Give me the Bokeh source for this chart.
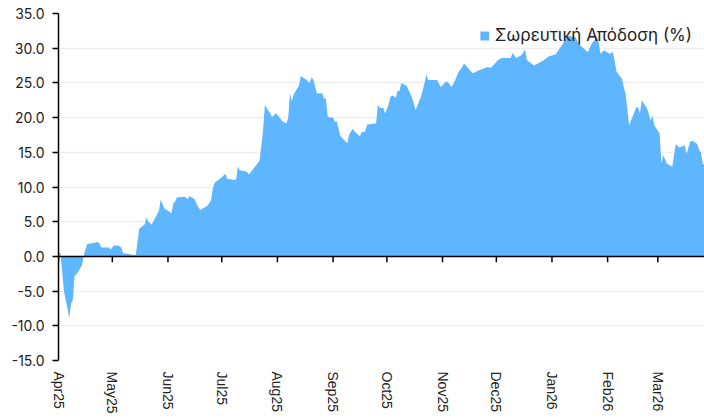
import numpy as np
import pandas as pd
from bokeh.plotting import figure
from bokeh.models import (Range1d, FixedTicker, NumeralTickFormatter,
                          DatetimeTickFormatter, Span, ColumnDataSource)
from bokeh.embed import file_html
from bokeh.resources import INLINE

series_name = "Σωρευτική Απόδοση (%)"

dates = [
    "2025-04-01", "2025-04-02", "2025-04-03", "2025-04-04", "2025-04-07", "2025-04-08",
    "2025-04-09", "2025-04-10", "2025-04-11", "2025-04-14", "2025-04-15", "2025-04-16",
    "2025-04-17", "2025-04-22", "2025-04-23", "2025-04-24", "2025-04-25", "2025-04-28",
    "2025-04-29", "2025-04-30",
    "2025-05-02", "2025-05-05", "2025-05-06", "2025-05-07", "2025-05-08", "2025-05-12",
    "2025-05-14", "2025-05-15", "2025-05-16", "2025-05-19", "2025-05-20", "2025-05-21",
    "2025-05-23", "2025-05-27", "2025-05-28", "2025-05-30",
    "2025-06-02", "2025-06-03", "2025-06-04", "2025-06-05", "2025-06-06", "2025-06-10",
    "2025-06-11", "2025-06-12", "2025-06-13", "2025-06-16", "2025-06-17", "2025-06-19",
    "2025-06-23", "2025-06-25", "2025-06-26", "2025-06-27", "2025-06-30",
    "2025-07-01", "2025-07-03", "2025-07-04", "2025-07-08", "2025-07-09", "2025-07-10",
    "2025-07-11", "2025-07-15", "2025-07-16", "2025-07-18", "2025-07-22", "2025-07-23",
    "2025-07-24", "2025-07-25", "2025-07-28", "2025-07-29", "2025-07-31",
    "2025-08-01", "2025-08-04", "2025-08-05", "2025-08-06", "2025-08-07", "2025-08-08",
    "2025-08-09", "2025-08-10", "2025-08-12", "2025-08-13", "2025-08-14", "2025-08-17",
    "2025-08-19", "2025-08-20", "2025-08-21", "2025-08-23", "2025-08-26", "2025-08-27",
    "2025-08-28", "2025-08-29", "2025-08-30",
    "2025-09-01", "2025-09-02", "2025-09-03", "2025-09-05", "2025-09-07", "2025-09-09",
    "2025-09-10", "2025-09-12", "2025-09-13", "2025-09-16", "2025-09-17", "2025-09-18",
    "2025-09-19", "2025-09-20", "2025-09-24", "2025-09-25", "2025-09-26", "2025-09-27",
    "2025-09-29", "2025-09-30",
    "2025-10-02", "2025-10-03", "2025-10-04", "2025-10-06", "2025-10-07", "2025-10-08",
    "2025-10-09", "2025-10-12", "2025-10-15", "2025-10-17", "2025-10-20", "2025-10-22",
    "2025-10-23", "2025-10-24", "2025-10-29", "2025-10-31",
    "2025-11-03", "2025-11-04", "2025-11-06", "2025-11-07", "2025-11-10", "2025-11-12",
    "2025-11-13", "2025-11-17", "2025-11-18", "2025-11-21", "2025-11-26", "2025-11-28",
    "2025-12-02", "2025-12-04", "2025-12-09", "2025-12-10", "2025-12-12", "2025-12-15",
    "2025-12-17", "2025-12-18", "2025-12-22", "2025-12-27", "2025-12-30",
    "2026-01-03", "2026-01-07", "2026-01-09", "2026-01-14", "2026-01-16", "2026-01-21",
    "2026-01-23", "2026-01-26", "2026-01-27", "2026-01-28", "2026-01-30",
    "2026-02-02", "2026-02-04", "2026-02-06", "2026-02-09", "2026-02-10", "2026-02-11",
    "2026-02-13", "2026-02-17", "2026-02-18", "2026-02-19", "2026-02-20", "2026-02-23",
    "2026-02-25", "2026-02-26", "2026-02-27",
    "2026-03-02", "2026-03-03", "2026-03-04", "2026-03-06", "2026-03-09", "2026-03-11",
    "2026-03-13", "2026-03-16", "2026-03-17", "2026-03-19", "2026-03-20", "2026-03-23",
    "2026-03-24", "2026-03-25", "2026-03-26", "2026-03-27",
]

values = [
    0.5, 0.5, -2.0, -5.0, -8.8, -6.8,
    -6.3, -2.7, -2.6, -1.3, 0.0, 1.0,
    1.8, 2.0, 2.1, 1.8, 1.3, 1.3,
    1.3, 1.0,
    1.6, 1.5, 1.3, 0.4, 0.45, 0.25,
    0.15, 2.0, 4.0, 4.6, 5.6, 5.0,
    4.6, 6.6, 8.2, 6.9,
    6.4, 6.2, 7.7, 7.9, 8.5, 8.6,
    8.5, 8.2, 8.7, 8.2, 7.5, 6.7,
    7.3, 8.1, 9.8, 10.6, 11.2,
    11.4, 11.9, 11.2, 11.0, 11.1, 13.0,
    12.4, 12.2, 11.8, 12.4, 13.8, 15.8,
    18.2, 21.8, 20.6, 20.1, 20.6,
    20.4, 19.4, 19.3, 19.2, 19.9, 23.5,
    22.4, 23.3, 24.2, 24.6, 26.0, 25.5,
    25.0, 25.8, 25.5, 23.5, 23.5, 22.7,
    22.8, 20.2, 20.0,
    20.0, 19.35, 19.5, 17.4, 16.8, 16.3,
    17.6, 18.4, 18.0, 17.3, 18.0, 17.9,
    18.1, 19.0, 19.1, 19.2, 21.9, 21.4,
    21.4, 20.6,
    21.9, 23.0, 23.2, 22.9, 23.9, 23.8,
    25.0, 24.6, 22.9, 21.1, 23.0, 25.0,
    26.2, 25.4, 25.4, 24.4,
    25.2, 25.1, 24.4, 24.8, 26.6, 27.3,
    27.8, 26.6, 26.4, 26.8, 27.3, 27.2,
    28.3, 28.6, 28.6, 29.3, 28.6, 29.0,
    29.8, 28.3, 27.5, 28.2, 28.8,
    29.1, 30.6, 31.8, 31.6, 30.6, 29.4,
    30.6, 31.6, 30.9, 29.2, 29.7,
    29.2, 29.4, 26.6, 25.6, 24.4, 23.4,
    18.9, 21.5, 21.5, 20.6, 22.5, 21.3,
    19.6, 20.3, 18.9,
    17.7, 13.4, 14.6, 13.4, 12.9, 16.2,
    15.7, 16.0, 14.8, 16.5, 16.7, 16.2,
    15.3, 15.0, 13.4, 13.1,
]

month_ticks = ["2025-04-01", "2025-05-01", "2025-06-01", "2025-07-01", "2025-08-01",
               "2025-09-01", "2025-10-01", "2025-11-01", "2025-12-01", "2026-01-01",
               "2026-02-01", "2026-03-01"]
y_ticks = [-15, -10, -5, 0, 5, 10, 15, 20, 25, 30, 35]

x = pd.to_datetime(dates)
src = ColumnDataSource(dict(x=x, y=values, zero=[0.0] * len(values)))
tick_dt = pd.to_datetime(month_ticks)
tick_ms = [float((t - pd.Timestamp("1970-01-01")) / pd.Timedelta(milliseconds=1)) for t in tick_dt]

p = figure(width=704, height=419, x_axis_type="datetime",
           output_backend="svg", toolbar_location=None,
           x_range=Range1d(x[0].to_pydatetime(), x[-1].to_pydatetime()),
           y_range=Range1d(y_ticks[0], y_ticks[-1]),
           min_border_left=58, min_border_right=0, min_border_top=13,
           min_border_bottom=59)
p.outline_line_color = None
p.background_fill_color = "white"

p.varea(x="x", y1="zero", y2="y", source=src, fill_color="#5db6fe",
        legend_label=series_name)

# zero line with month ticks
p.add_layout(Span(location=0, dimension="width", line_color="black", line_width=1.5))
p.segment(x0=tick_dt, y0=0, x1=tick_dt, y1=-0.85, line_color="black", line_width=1.5)

# x axis (labels only, at bottom)
xa = p.xaxis[0]
xa.ticker = FixedTicker(ticks=tick_ms)
xa.formatter = DatetimeTickFormatter(days="%b%y", months="%b%y", years="%b%y")
xa.major_label_orientation = "vertical"
xa.axis_line_color = None
xa.major_tick_line_color = None
xa.minor_tick_line_color = None
xa.major_tick_out = 0
xa.major_tick_in = 0
xa.major_label_standoff = 11
xa.major_label_text_font = "Liberation Sans"
xa.major_label_text_font_size = "14px"
xa.major_label_text_color = "#222222"

# y axis
ya = p.yaxis[0]
ya.ticker = FixedTicker(ticks=y_ticks)
ya.formatter = NumeralTickFormatter(format="0.0")
ya.axis_line_color = "black"
ya.axis_line_width = 1.5
ya.major_tick_line_color = "black"
ya.major_tick_line_width = 1.5
ya.major_tick_out = 6
ya.major_tick_in = 0
ya.minor_tick_line_color = None
ya.major_label_standoff = 8
ya.major_label_text_font = "Inter"
ya.major_label_text_font_size = "14px"
ya.major_label_text_color = "#222222"

p.xgrid.visible = False
p.ygrid.ticker = FixedTicker(ticks=y_ticks)
p.ygrid.grid_line_color = "#eeeeee"
p.ygrid.grid_line_width = 1.5

lg = p.legend[0]
lg.location = "top_right"
lg.border_line_color = None
lg.background_fill_alpha = 0
lg.margin = 12
lg.padding = 0
lg.glyph_width = 11
lg.glyph_height = 11
lg.label_standoff = 5
lg.label_text_font = "Inter"
lg.label_text_font_size = "17px"
lg.label_text_color = "#222222"

open("out.html", "w").write(file_html(p, INLINE))
